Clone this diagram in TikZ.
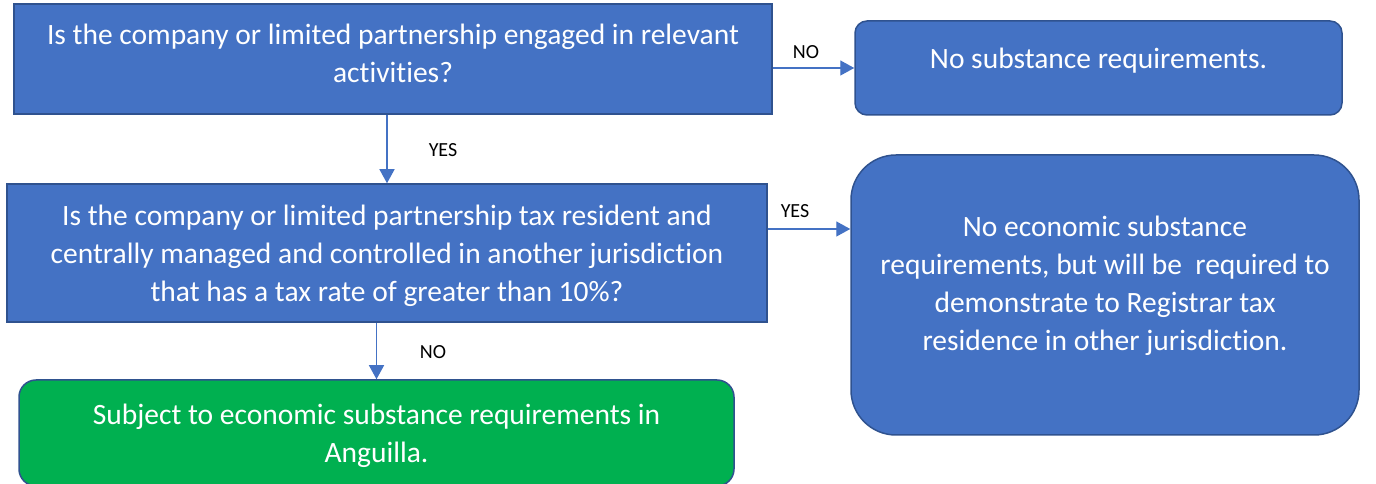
\documentclass[tikz,border=0pt]{standalone}
\usepackage{fontspec}
\setmainfont{Carlito}[Ligatures={NoCommon}]
\usetikzlibrary{arrows.meta}

\definecolor{boxblue}{HTML}{4472C4}
\definecolor{edgeblue}{HTML}{2F528F}
\definecolor{boxgreen}{HTML}{00B050}

% centred lines, moved up a little inside their box
\newcommand{\lifted}[2]{\raisebox{#1}[\height][\depth]{\begin{tabular}{@{}c@{}}#2\end{tabular}}}

\begin{document}
\begin{tikzpicture}[x=1pt,y=1pt,>={Triangle[length=14pt,width=15pt]},
  question/.style={draw=edgeblue,line width=1.5pt,fill=boxblue,text=white,
    font=\fontsize{29.5}{38}\selectfont,inner sep=0pt},
  outcome/.style={question,rounded corners=#1},
  flow/.style={->,boxblue,line width=1.4pt},
  answer/.style={font=\fontsize{20}{24}\selectfont}]
  \useasboundingbox (0,0) rectangle (1376,484);

  % first test: relevant activities?
  \node[question,minimum width=758,minimum height=110] (q1) at (393,425)
    {\lifted{3pt}{Is the company or limited partnership engaged in relevant\\ activities?}};
  \node[outcome=12pt,minimum width=487,minimum height=94] (nosub) at (1098.5,416)
    {\lifted{7pt}{No substance requirements.}};

  % second test: resident elsewhere at more than 10%?
  \node[question,minimum width=760,minimum height=138] (q2) at (387,231)
    {\lifted{-3pt}{Is the company or limited partnership tax resident and\\
      centrally managed and controlled in another jurisdiction\\
      that has a tax rate of greater than 10\%?}};
  \node[outcome=45pt,minimum width=508,minimum height=280] (noeco) at (1105,189)
    {\lifted{9pt}{No economic substance\\
      requirements, but will be\ \ required to\\
      demonstrate to Registrar tax\\
      residence in other jurisdiction.}};
  \node[outcome=17pt,fill=boxgreen,minimum width=715,minimum height=106] (green) at (376.5,51)
    {\lifted{-3pt}{Subject to economic substance requirements in\\ Anguilla.}};

  % connectors
  \draw[flow] (q1.east |- nosub.west) -- (nosub.west);
  \draw[flow] (q1.south -| q2.north) -- (q2.north);
  \draw[flow] ([yshift=24pt]q2.east) -- ([yshift=24pt]q2.east -| noeco.west);
  \draw[flow] (q2.south -| green.north) -- (green.north);

  \node[answer] (no1) at (806,432) {NO};
  \node[answer] (yes1) at (443,334) {YES};
  \node[answer] (yes2) at (795,273) {YES};
  \node[answer] (no2) at (433,132) {NO};
\end{tikzpicture}
\end{document}
